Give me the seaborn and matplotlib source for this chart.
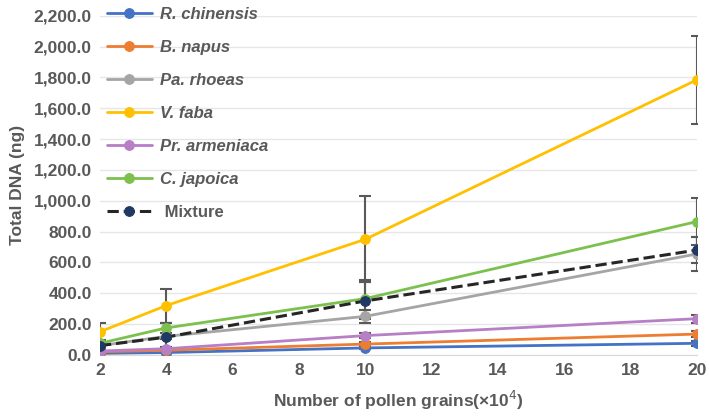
import numpy as np
import pandas as pd
import seaborn as sns
import matplotlib.pyplot as plt

grains = [2, 4, 10, 20]
species = ['R. chinensis', 'B. napus', 'Pa. rhoeas', 'V. faba', 'Pr. armeniaca', 'C. japoica', 'Mixture']
r_chinensis = [10, 15, 45, 75]
b_napus = [20, 30, 70, 135]
pa_rhoeas = [60, 120, 250, 655]
v_faba = [150, 320, 750, 1785]
pr_armeniaca = [25, 40, 125, 235]
c_japoica = [75, 175, 365, 865]
mixture = [60, 115, 350, 680]

err_r_chinensis = [5, 5, 10, 15]
err_b_napus = [5, 8, 12, 20]
err_pa_rhoeas = [15, 20, 40, 110]
err_v_faba = [55, 110, 280, 285]
err_pr_armeniaca = [8, 10, 15, 25]
err_c_japoica = [15, 30, 120, 150]
err_mixture = [15, 90, 120, 85]

values = [r_chinensis, b_napus, pa_rhoeas, v_faba, pr_armeniaca, c_japoica, mixture]
errors = [err_r_chinensis, err_b_napus, err_pa_rhoeas, err_v_faba, err_pr_armeniaca, err_c_japoica, err_mixture]
colors = ['#4472C4', '#ED7D31', '#A5A5A5', '#FFC000', '#B77FC6', '#7CC04E', '#1F3864']

df = pd.DataFrame({
    'grains': grains * len(species),
    'dna': np.concatenate(values),
    'err': np.concatenate(errors),
    'species': np.repeat(species, len(grains)),
})

sns.set_style('white')
plt.rcParams['font.family'] = ['Liberation Sans', 'DejaVu Sans']

fig = plt.figure(figsize=(7.09, 4.17), dpi=100)
ax = fig.add_axes([0.141, 0.149, 0.842, 0.813])

# error bars first so lines sit on top
for sp, col in zip(species, colors):
    d = df[df['species'] == sp]
    ax.errorbar(d['grains'], d['dna'], yerr=d['err'], fmt='none', ecolor='#595959',
                elinewidth=1.5, capsize=4, capthick=1.5, zorder=2)

for sp, col in zip(species, colors):
    d = df[df['species'] == sp]
    if sp == 'Mixture':
        sns.lineplot(x='grains', y='dna', data=d, ax=ax, color='#262626', linestyle='--', lw=2.2,
                     marker='o', markersize=7, markerfacecolor=col, markeredgecolor=col,
                     label=' Mixture', zorder=4)
    else:
        sns.lineplot(x='grains', y='dna', data=d, ax=ax, color=col, lw=2.0,
                     marker='o', markersize=7, markeredgecolor=col, label=sp, zorder=3)

ax.set_xlim(2, 20)
ax.set_ylim(0, 2200)
ax.set_xticks(range(2, 21, 2))
ax.set_yticks(range(0, 2201, 200))
ax.set_yticklabels([f'{v:,.1f}' for v in range(0, 2201, 200)])
ax.yaxis.grid(True, color='#E6E6E6', lw=1)
ax.set_axisbelow(True)
for s in ['top', 'right', 'left']:
    ax.spines[s].set_visible(False)
ax.spines['bottom'].set_color('#D9D9D9')
ax.tick_params(axis='both', labelsize=12.5, colors='#595959', length=0, pad=6)
for lab in ax.get_xticklabels() + ax.get_yticklabels():
    lab.set_fontweight('bold')

ax.set_xlabel('Number of pollen grains(×10$^{4}$)', fontsize=12.5, fontweight='bold', color='#595959', labelpad=8)
ax.set_ylabel('Total DNA (ng)', fontsize=12.5, fontweight='bold', color='#595959', labelpad=6)

leg = ax.legend(loc='upper left', frameon=False, fontsize=12, handlelength=2.7,
                labelspacing=1.08, borderaxespad=0.0, handletextpad=0.5,
                bbox_to_anchor=(0.0, 1.045))
for t in leg.get_texts():
    t.set_color('#595959')
    t.set_fontweight('bold')
    if t.get_text() != ' Mixture':
        t.set_fontstyle('italic')

plt.savefig('out.png', dpi=100)
